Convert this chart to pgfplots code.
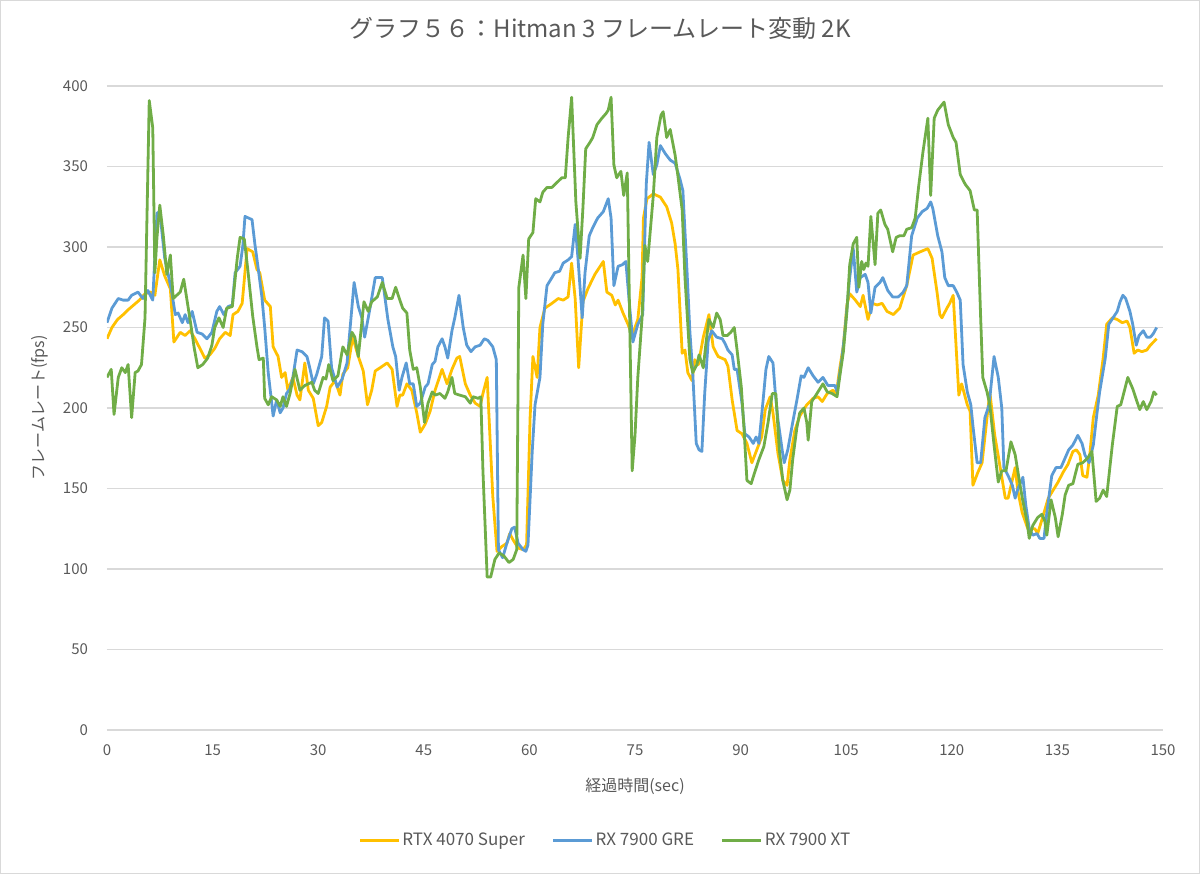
\documentclass[border=0pt]{standalone}
\usepackage{fontspec}
\setmainfont{Noto Sans CJK JP}
\usepackage{pgfplots}
\pgfplotsset{compat=1.18}
\definecolor{rtxyellow}{HTML}{FFC000}
\definecolor{greblue}{HTML}{5B9BD5}
\definecolor{xtgreen}{HTML}{70AD47}
\definecolor{gridgray}{HTML}{D9D9D9}
\definecolor{textgray}{HTML}{595959}

\begin{document}
\begin{tikzpicture}
\useasboundingbox (0,0) rectangle (600pt,437pt);
\draw[gridgray, line width=0.6pt] (0.3pt,0.3pt) rectangle (599.7pt,436.7pt);
\begin{axis}[
  at={(53.5pt,72pt)}, anchor=south west,
  scale only axis, width=528pt, height=322pt,
  xmin=0, xmax=150, ymin=0, ymax=400,
  xtick={0,15,...,150}, ytick={0,50,...,400},
  ymajorgrids, grid style={gridgray, line width=0.6pt},
  axis line style={draw=none}, tick style={draw=none},
  /pgf/number format/assume math mode=true,
  ticklabel style={font=\fontsize{7.5}{9}\selectfont, text=textgray},
  yticklabel style={xshift=-6pt},
  xticklabel style={yshift=-4pt},
  title={グラフ５６：Hitman 3 フレームレート変動 2K},
  title style={at={(0.467,1.071)}, anchor=center, font=\fontsize{12}{14}\selectfont, text=textgray},
  xlabel={経過時間(sec)},
  xlabel style={at={(0.5,-0.087)}, anchor=center, font=\fontsize{8}{10}\selectfont, text=textgray},
  ylabel={フレームレート(fps)},
  ylabel style={at={(-0.0634,0.5)}, anchor=center, font=\fontsize{8}{10}\selectfont, text=textgray},
  legend columns=3,
  legend style={at={(0.472,-0.172)}, anchor=center, draw=none, fill=none,
    font=\fontsize{8.5}{10}\selectfont, text=textgray,
    nodes={inner xsep=1pt},
    /tikz/every even column/.append style={column sep=12.5pt},
    /tikz/every odd column/.append style={column sep=0pt}},
  legend image code/.code={\draw[#1] (0pt,0pt) -- (19.5pt,0pt);},
  every axis plot/.append style={line width=1.4pt, line join=round, no markers},
]
% RTX 4070 Super
\addplot[rtxyellow] coordinates {
(0,243) (0.7,250) (1.5,255) (2.3,258) (3,261) (3.8,264) (4.6,267) (5.4,271) (6.2,272) (6.8,270)
(7.5,292) (8.2,282) (9,274) (9.5,241) (10.4,247) (11.1,245) (11.8,248) (12.5,243) (13.2,237) (13.9,231)
(14.6,233) (15.3,237) (16,243) (16.8,247) (17.5,245) (17.9,258) (18.6,260) (19.2,265) (19.9,299) (20.7,297)
(21.3,286) (21.7,284) (22.4,267) (23.2,263) (23.6,238) (24.3,232) (24.8,219) (25.3,222) (25.7,211) (26.4,219)
(27,208) (27.4,205) (28.1,228) (28.6,211) (29.3,206) (30,189) (30.5,191) (31.2,201) (31.7,213) (32.4,217)
(33.1,208) (33.5,221) (34.2,225) (34.9,244) (35.7,232) (36.4,223) (37,202) (37.6,211) (38.1,223) (38.8,225)
(39.8,228) (40.5,224) (41.2,201) (41.6,208) (42,208) (42.6,215) (43.3,211) (44,197) (44.5,185) (45.2,190)
(45.9,198) (46.6,211) (47.6,224) (48.3,215) (49,224) (49.7,231) (50.1,232) (50.9,215) (51.6,208) (52.3,203)
(53,201) (53.4,209) (54,219) (54.8,145) (55.4,111) (56.1,114) (56.8,116) (57.2,122) (57.7,118) (58.4,113)
(59.1,112) (59.6,115) (60.1,194) (60.5,232) (61.1,219) (61.5,250) (62.2,262) (63.2,265) (64.1,268) (64.8,267)
(65.5,269) (66,290) (66.5,268) (67,225) (67.6,266) (68.3,274) (69.3,283) (70.5,291) (71,272) (71.7,270)
(72.2,264) (72.6,267) (73.3,259) (74,252) (74.6,245) (75.4,255) (76,281) (76.2,318) (76.7,330) (77.6,333)
(78.6,331) (79.5,325) (80.2,315) (80.7,302) (81.1,286) (81.7,234) (82.1,236) (82.5,222) (83.1,217) (83.5,230)
(84,227) (84.7,244) (85.5,258) (86.1,238) (86.8,232) (87.8,230) (88.2,226) (88.8,205) (89.5,186) (90.2,184)
(90.9,178) (91.6,166) (92.3,174) (93,182) (93.5,199) (94.2,207) (94.6,197) (95.3,172) (96,155) (96.6,152)
(97,168) (97.7,186) (98.4,195) (99.4,202) (100.3,206) (101,207) (101.6,204) (102.3,209) (103.1,211) (103.6,209)
(104.1,225) (104.6,239) (105.1,264) (105.5,271) (106.3,267) (107,263) (107.4,270) (108.1,255) (108.7,265) (109.4,264)
(110.1,265) (110.8,260) (111.7,258) (112.6,262) (113.6,276) (114.5,295) (115.5,297) (116.6,299) (117.2,293) (117.9,272)
(118.3,258) (118.6,256) (119.3,262) (119.7,265) (120.2,270) (121,208) (121.4,215) (122.2,202) (122.6,198) (123,152)
(123.7,160) (124.3,166) (125,194) (125.4,210) (126.1,183) (126.8,165) (127.6,144) (128,144) (129,163) (129.4,148)
(130,135) (130.8,125) (131.8,125) (132.2,122) (132.9,132) (133.7,144) (134.4,149) (135.1,154) (135.8,160) (136.5,165)
(137.2,173) (137.7,174) (138.2,171) (138.6,158) (139.2,157) (139.6,171) (140.1,194) (140.8,208) (141.5,231) (142,252)
(142.8,256) (143.5,255) (144.2,253) (144.9,254) (145.3,250) (145.9,234) (146.4,236) (147,235) (147.7,236) (148.2,239)
(149.1,243)
};
\addlegendentry{RTX 4070 Super}
% RX 7900 GRE
\addplot[greblue] coordinates {
(0,253) (0.7,262) (1.6,268) (2.3,267) (3,267) (3.5,270) (4.4,272) (5.1,268) (5.8,273) (6.5,267)
(7.1,321) (7.5,322) (8.2,293) (8.7,283) (9.2,272) (9.7,258) (10.1,259) (10.7,253) (11.1,258) (11.5,253)
(12.1,260) (12.8,247) (13.5,246) (14.2,243) (14.9,247) (15.6,260) (16,263) (16.6,258) (17.2,263) (17.8,264)
(18.2,284) (18.9,288) (19.3,301) (19.6,319) (20.6,317) (21,302) (21.5,286) (22,269) (22.4,250) (22.9,222)
(23.4,203) (23.6,195) (24.1,205) (24.6,197) (25,200) (25.5,209) (26,212) (26.4,219) (27,236) (27.7,235)
(28.4,232) (28.8,225) (29.3,215) (29.8,221) (30.5,232) (30.9,256) (31.4,254) (31.9,225) (32.7,213) (33.4,218)
(34.1,228) (34.5,248) (35.1,278) (35.7,263) (36.2,256) (36.6,244) (37.4,263) (38.1,281) (39.1,281) (39.9,255)
(40.6,238) (41,232) (41.5,211) (41.9,219) (42.5,228) (43,215) (43.5,215) (44,201) (44.5,203) (45.2,213)
(45.6,215) (46.2,227) (46.6,229) (47,238) (47.6,243) (48,238) (48.4,231) (49,248) (49.4,256) (50,270)
(50.6,250) (51.1,239) (51.7,235) (52.3,238) (53,239) (53.6,243) (54.1,242) (54.8,238) (55.3,230) (55.6,112)
(56.2,107) (56.8,116) (57.5,125) (57.9,126) (58.4,116) (59.1,112) (59.5,111) (59.8,115) (60.4,173) (60.8,202)
(61.5,219) (61.9,252) (62.5,276) (63.2,281) (63.6,284) (64.3,285) (64.8,290) (65.5,292) (66,294) (66.5,314)
(66.9,293) (67.5,256) (67.9,284) (68.5,307) (69,312) (69.7,318) (70.5,322) (71.2,330) (71.6,318) (72,276)
(72.6,288) (73.2,289) (73.7,291) (74.3,260) (74.7,241) (75.4,252) (76.1,258) (76.6,339) (77,365) (77.6,345)
(78.1,351) (78.6,363) (79.3,358) (80,354) (80.7,352) (81.4,342) (81.8,335) (82.4,284) (82.8,247) (83.2,222)
(83.7,178) (84.1,174) (84.5,173) (84.9,209) (85.4,242) (85.9,248) (86.6,244) (87.4,243) (87.8,240) (88.2,236)
(88.8,233) (89.1,224) (89.5,224) (90.2,203) (90.6,184) (91.2,182) (91.8,178) (92.2,182) (92.6,178) (93.2,205)
(93.6,224) (94,232) (94.6,228) (94.9,211) (95.3,193) (95.9,174) (96.2,166) (96.7,174) (97.4,191) (98,205)
(98.6,220) (99,219) (99.6,225) (100.3,220) (101,216) (101.7,219) (102.4,214) (103.4,214) (103.7,210) (104.4,231)
(104.8,247) (105.5,281) (106,299) (106.5,272) (107,281) (107.7,283) (108.1,278) (108.5,259) (109.1,275) (109.8,278)
(110.2,281) (110.9,273) (111.6,269) (112.4,269) (113.1,272) (113.6,276) (114.3,307) (115.1,318) (115.8,322) (116.5,324)
(117,328) (117.3,324) (118,307) (118.6,297) (119,281) (119.5,276) (120.2,276) (120.7,272) (121.2,267) (121.6,227)
(122.2,210) (122.7,202) (123,189) (123.6,166) (124.1,166) (124.7,194) (125.3,202) (126,232) (126.6,219) (127.1,200)
(127.4,163) (128,158) (128.6,152) (129,144) (129.4,150) (130.1,157) (130.5,140) (131,125) (131.5,121) (132.1,122)
(132.5,119) (133.1,119) (133.5,135) (134.2,158) (134.8,163) (135.5,163) (136.1,169) (136.6,174) (137.2,177) (137.9,183)
(138.5,178) (138.9,171) (139.5,166) (140.1,177) (140.6,196) (141,210) (141.8,231) (142.3,252) (142.9,256) (143.5,260)
(143.9,266) (144.3,270) (144.7,268) (145.3,260) (145.7,252) (146.2,239) (146.6,245) (147.2,248) (147.7,244) (148.2,244)
(148.6,246) (149.1,250)
};
\addlegendentry{RX 7900 GRE}
% RX 7900 XT
\addplot[xtgreen] coordinates {
(0,219) (0.6,224) (1,196) (1.6,219) (2.1,225) (2.6,222) (3,227) (3.5,194) (4,222) (4.4,223)
(4.9,227) (5.4,256) (6,391) (6.5,374) (6.8,284) (7.1,306) (7.5,326) (8,307) (8.5,283) (9,295)
(9.4,268) (9.9,270) (10.4,272) (10.9,280) (11.4,266) (11.9,252) (12.4,237) (12.9,225) (13.6,227) (14.3,231)
(14.9,239) (15.3,250) (15.9,256) (16.5,250) (17,262) (17.8,263) (18.5,293) (18.9,306) (19.5,305) (20,286)
(20.7,257) (21.3,238) (21.6,230) (22.2,231) (22.4,206) (22.9,202) (23.4,207) (24.1,205) (24.6,201) (25,207)
(25.5,201) (26,209) (26.7,224) (27.4,211) (28.1,214) (29.1,216) (29.5,211) (30,209) (30.7,219) (31.1,218)
(31.5,227) (32.1,217) (32.8,220) (33.5,238) (34.1,233) (34.8,247) (35.2,244) (35.7,232) (36.5,266) (37.1,260)
(37.6,266) (38.4,269) (39.1,278) (39.8,268) (40.5,268) (41,275) (41.6,267) (42,262) (42.6,259) (43,236)
(43.5,224) (44,225) (44.5,213) (45.1,191) (45.6,203) (46.2,210) (46.6,208) (47.3,209) (48,206) (48.4,210)
(49,219) (49.4,209) (50.1,208) (50.9,207) (51.6,203) (52,207) (52.7,206) (53.1,207) (53.4,161) (54,95)
(54.5,95) (55.1,106) (55.7,110) (56.4,108) (57.1,104) (57.7,106) (58.2,112) (58.5,275) (59.1,295) (59.5,268)
(59.9,305) (60.5,309) (60.9,330) (61.5,328) (61.9,334) (62.5,337) (63.2,337) (63.9,340) (64.6,343) (65.1,343)
(65.5,368) (66,393) (66.6,328) (67.2,293) (67.6,324) (68,361) (68.6,365) (69,368) (69.6,376) (70.3,380)
(70.9,383) (71.2,385) (71.6,393) (72,351) (72.4,343) (73,347) (73.4,332) (73.9,346) (74.6,161) (75,183)
(75.4,219) (76,256) (76.4,301) (76.8,291) (77.6,332) (78.1,368) (78.7,382) (79,384) (79.5,368) (79.8,371)
(80,373) (80.7,357) (81.1,344) (81.7,323) (82.1,281) (82.8,230) (83.2,222) (83.8,227) (84.1,233) (84.7,225)
(85.1,241) (85.5,255) (86.1,250) (86.6,259) (87.1,255) (87.5,245) (88.1,245) (88.6,247) (89.1,250) (89.5,236)
(90.1,213) (90.5,186) (90.9,155) (91.5,153) (92,160) (92.6,168) (93.3,176) (93.9,191) (94.5,209) (95,209)
(95.5,174) (96,155) (96.6,143) (97,149) (97.4,168) (98,188) (98.4,197) (99,200) (99.4,191) (99.6,180)
(100.1,204) (100.7,208) (101.7,215) (102.3,210) (103,209) (103.7,207) (104.1,220) (104.6,235) (105.1,260) (105.5,289)
(106,302) (106.5,306) (106.8,275) (107.2,291) (107.5,286) (107.8,290) (108.1,288) (108.5,319) (109.1,289) (109.5,321)
(109.9,323) (110.5,314) (110.9,311) (111.6,297) (112.1,306) (112.6,307) (113.2,307) (113.6,311) (114.3,312) (114.8,318)
(115.3,338) (115.9,359) (116.6,380) (117,332) (117.5,380) (118,385) (118.9,390) (119.5,376) (120.2,368) (120.6,365)
(121.2,345) (121.9,339) (122.6,335) (123.2,323) (123.6,323) (124.1,256) (124.4,219) (125,210) (125.4,202) (126,177)
(126.6,154) (127.1,161) (127.7,161) (128.4,179) (129,171) (129.7,152) (130.1,142) (130.7,129) (131,119) (131.5,127)
(132.2,132) (132.8,134) (133.2,130) (133.5,121) (134.1,143) (134.7,132) (135.1,120) (135.7,134) (136.1,146) (136.6,152)
(137.2,153) (137.9,165) (138.6,166) (139.3,169) (139.9,173) (140.5,142) (141,144) (141.5,149) (142,145) (142.8,177)
(143.5,201) (144,202) (145,219) (145.7,212) (146.3,204) (146.7,199) (147.2,204) (147.7,199) (148.3,204) (148.7,210)
(149.1,208)
};
\addlegendentry{RX 7900 XT}
\end{axis}
\end{tikzpicture}
\end{document}
